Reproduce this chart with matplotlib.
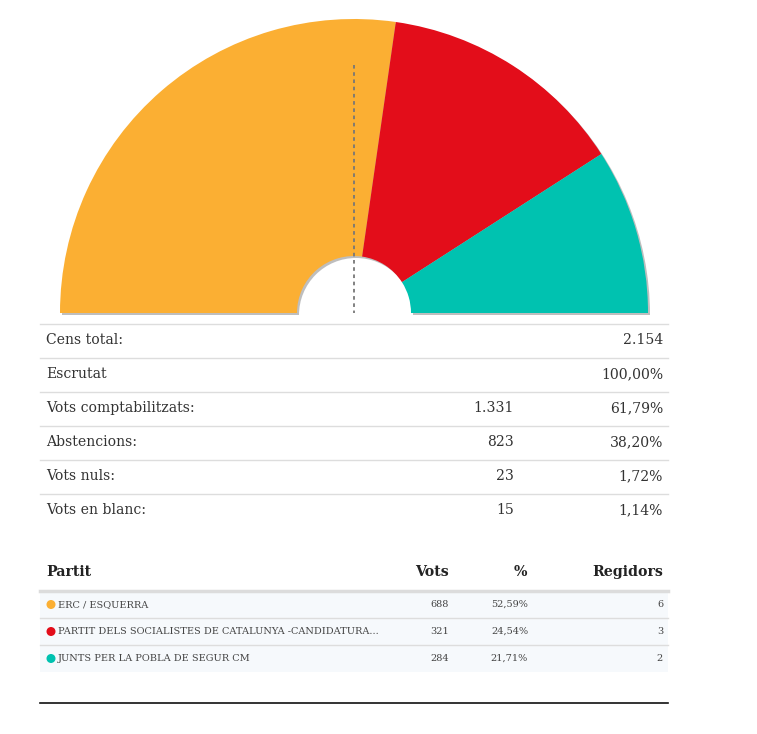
import matplotlib
matplotlib.use("Agg")
import matplotlib.pyplot as plt
from matplotlib.patches import Wedge, Circle, Rectangle

# party results
parties = ["ERC / ESQUERRA",
           "PARTIT DELS SOCIALISTES DE CATALUNYA -CANDIDATURA...",
           "JUNTS PER LA POBLA DE SEGUR CM"]
votes = ["688", "321", "284"]
pcts = ["52,59%", "24,54%", "21,71%"]
seats = [6, 3, 2]
colors = ["#FBAF33", "#E30D1A", "#00C2B0"]

# summary table
sum_labels = ["Cens total:", "Escrutat", "Vots comptabilitzats:", "Abstencions:",
              "Vots nuls:", "Vots en blanc:"]
sum_counts = ["", "", "1.331", "823", "23", "15"]
sum_values = ["2.154", "100,00%", "61,79%", "38,20%", "1,72%", "1,14%"]

W, H = 757, 734
fig = plt.figure(figsize=(W / 100, H / 100), dpi=100)
ax = fig.add_axes([0, 0, 1, 1])
ax.set_xlim(0, W)
ax.set_ylim(H, 0)
ax.axis("off")

serif = "DejaVu Serif"
txt = "#333333"

# hemicycle
cx, cy, r_out, r_in = 354, 313, 294, 57
total = sum(seats)
# shadow behind the whole ring
ax.add_patch(Wedge((cx + 2, cy + 2), r_out, -180, 0, width=r_out - r_in,
                   facecolor="#8a8a8a", edgecolor="none", alpha=0.55, zorder=1))
start = 180.0
for s, c in zip(seats, colors):
    span = 180.0 * s / total
    # y axis is inverted, so angles are mirrored
    w = Wedge((cx, cy), r_out, -start, -(start - span), width=r_out - r_in,
              facecolor=c, edgecolor="none", zorder=2)
    ax.add_patch(w)
    start -= span
# majority line
ax.plot([cx, cx], [65, cy], color="#777777", lw=1.3, ls=(0, (2, 2)), zorder=3)

# summary table
fs = 10.1
row_h = 34
top = 324
for i, (lab, cnt, val) in enumerate(zip(sum_labels, sum_counts, sum_values)):
    y0 = top + i * row_h
    ax.plot([40, 668], [y0, y0], color="#dddddd", lw=1, zorder=1)
    yc = y0 + 16
    ax.text(46, yc, lab, family=serif, fontsize=fs, color=txt, va="center", ha="left")
    if cnt:
        ax.text(514, yc, cnt, family=serif, fontsize=fs, color=txt, va="center", ha="right")
    ax.text(663, yc, val, family=serif, fontsize=fs, color=txt, va="center", ha="right")

# party table header
hy = 572
hfs = 10.2
for x, lab, ha in [(46, "Partit", "left"), (449, "Vots", "right"),
                   (527, "%", "right"), (663, "Regidors", "right")]:
    ax.text(x, hy, lab, family=serif, fontsize=hfs, weight="bold", color="#222222",
            va="center", ha=ha)

rtop = 591
rh = 27
pfs = 7.0
ax.add_patch(Rectangle((40, rtop), 628, rh * len(parties), facecolor="#f6f9fc",
                       edgecolor="none", zorder=0))
ax.plot([40, 668], [rtop, rtop], color="#dcdcdc", lw=2.5, zorder=1)
for i, (p, v, pc, s, c) in enumerate(zip(parties, votes, pcts, seats, colors)):
    y0 = rtop + i * rh
    if i > 0:
        ax.plot([40, 668], [y0, y0], color="#dddddd", lw=1, zorder=1)
    yc = y0 + 13.5
    ax.add_patch(Circle((51, yc), 4.5, facecolor=c, edgecolor="none", zorder=2))
    ax.text(58, yc, p, family=serif, fontsize=pfs, color="#444444", va="center", ha="left")
    ax.text(449, yc, v, family=serif, fontsize=pfs, color="#444444", va="center", ha="right")
    ax.text(528, yc, pc, family=serif, fontsize=pfs, color="#444444", va="center", ha="right")
    ax.text(663, yc, str(s), family=serif, fontsize=pfs, color="#444444", va="center", ha="right")

ax.plot([40, 668], [703, 703], color="#111111", lw=1.2)

fig.savefig("out.png", dpi=100)
